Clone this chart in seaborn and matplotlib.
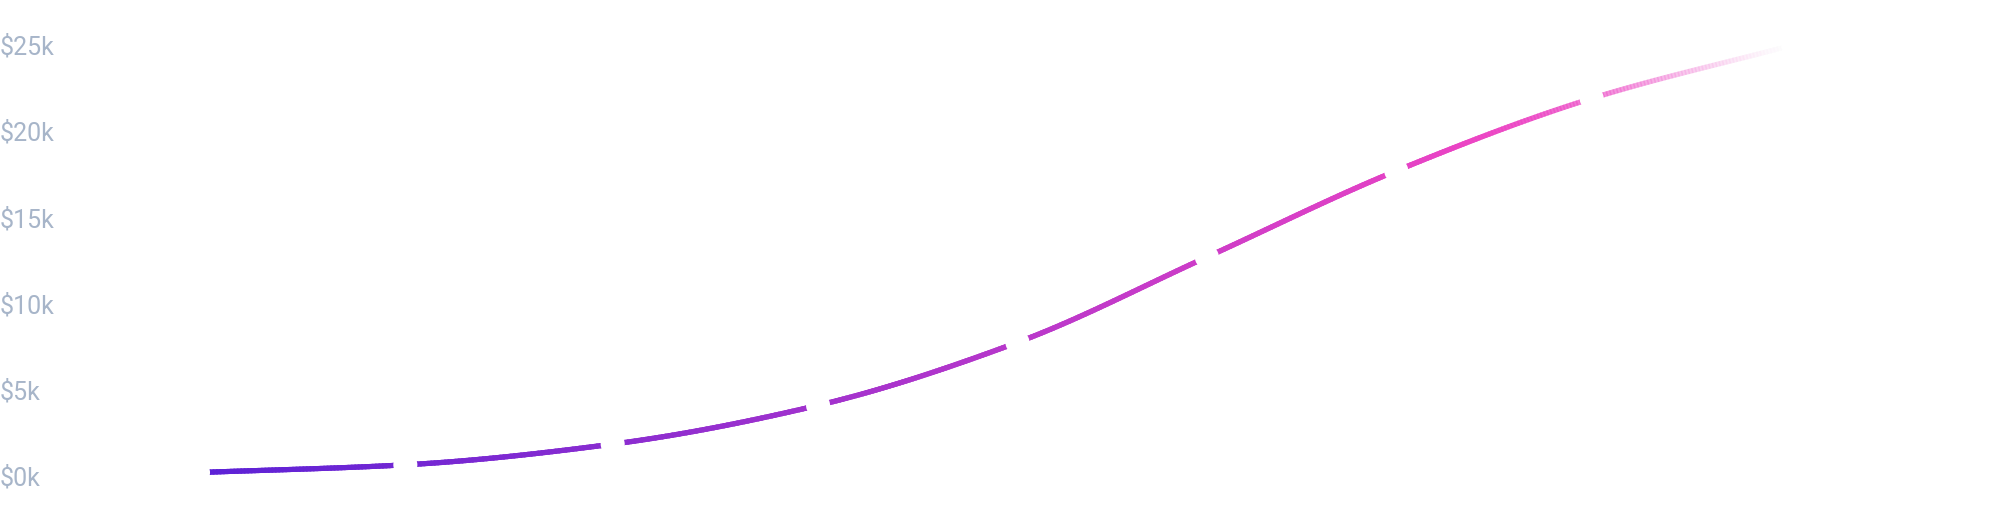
import numpy as np
import pandas as pd
import seaborn as sns
from matplotlib import pyplot as plt
from matplotlib.collections import LineCollection
from matplotlib.colors import to_rgb

# data (values in $k)
periods = [0, 1.04, 2.08, 3.11, 4.11, 5.06, 6.01, 6.99, 8.0]
revenue_k = [0.2, 0.65, 1.85, 4.1, 7.75, 12.7, 17.7, 21.9, 25.0]
tick_values = [0, 5, 10, 15, 20, 25]
tick_labels = ['$0k', '$5k', '$10k', '$15k', '$20k', '$25k']

df = pd.DataFrame({'period': periods, 'revenue': revenue_k})


# monotone cubic through the points (like d3 curveMonotoneX)
def monotone_curve(x, y, n=60):
    x = np.asarray(x, float)
    y = np.asarray(y, float)
    h = np.diff(x)
    d = np.diff(y) / h
    m = np.zeros_like(y)
    m[0], m[-1] = d[0], d[-1]
    for i in range(1, len(x) - 1):
        if d[i - 1] * d[i] <= 0:
            m[i] = 0
        else:
            w1 = 2 * h[i] + h[i - 1]
            w2 = h[i] + 2 * h[i - 1]
            m[i] = (w1 + w2) / (w1 / d[i - 1] + w2 / d[i])
    xs, ys = [], []
    for i in range(len(x) - 1):
        t = np.linspace(0, 1, n, endpoint=(i == len(x) - 2))
        h00 = 2 * t**3 - 3 * t**2 + 1
        h10 = t**3 - 2 * t**2 + t
        h01 = -2 * t**3 + 3 * t**2
        h11 = t**3 - t**2
        xs.append(x[i] + t * h[i])
        ys.append(h00 * y[i] + h10 * h[i] * m[i] + h01 * y[i + 1] + h11 * h[i] * m[i + 1])
    return np.concatenate(xs), np.concatenate(ys)


sns.set_theme(style='white')
plt.rcParams['font.family'] = ['Roboto', 'DejaVu Sans']

fig = plt.figure(figsize=(19.92, 5.18), dpi=100)
ax = fig.add_axes([0, 0, 1, 1])

# gradient line: violet -> pink, then fading out at the end
cx, cy = monotone_curve(df.period, df.revenue)
pts = np.column_stack([cx, cy]).reshape(-1, 1, 2)
segs = np.concatenate([pts[:-1], pts[1:]], axis=1)
frac = (cx[:-1] - cx[0]) / (cx[-1] - cx[0])
c0 = np.array(to_rgb('#5b21d6'))
c1 = np.array(to_rgb('#ec44c4'))
f_col = np.clip(frac / 0.8, 0, 1)[:, None]
rgb = c0 * (1 - f_col) + c1 * f_col
alpha = (np.clip((1.0 - frac) / 0.22, 0, 1) ** 1.6)[:, None]
lc = LineCollection(segs, colors=np.hstack([rgb, alpha]), linewidths=3.7,
                    capstyle='projecting', joinstyle='round')
ax.add_collection(lc)

# white dots on the data points cut the line
sns.scatterplot(data=df, x='period', y='revenue', color='white', s=300,
                edgecolor='none', zorder=3, ax=ax)

ax.set_xlim(-0.993, 8.998)
ax.set_ylim(-2.436, 27.61)
ax.set_yticks(tick_values)
ax.set_yticklabels(tick_labels)
ax.set_xticks([])
ax.tick_params(axis='y', length=0, pad=0, labelsize=18, labelcolor='#a7b5c9')
for lab in ax.get_yticklabels():
    lab.set_horizontalalignment('left')
ax.set_xlabel('')
ax.set_ylabel('')
sns.despine(ax=ax, left=True, bottom=True)
ax.grid(False)

fig.savefig('out.png', dpi=100, facecolor='white')
